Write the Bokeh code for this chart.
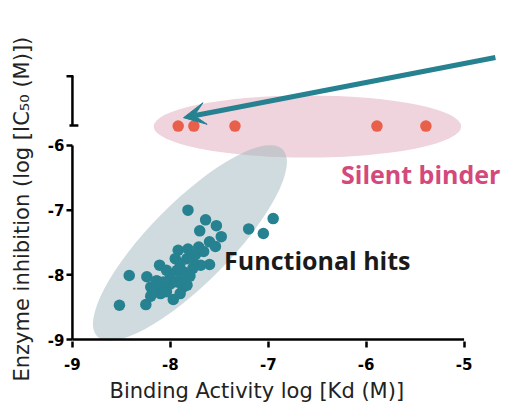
import math
from bokeh.plotting import figure
from bokeh.models import Range1d, FixedTicker, Label, Arrow, VeeHead, Title
from bokeh.embed import file_html
from bokeh.resources import INLINE

# ---- data (log units) ----
functional_kd = [-7.82, -7.64, -7.53, -7.70, -7.48, -7.60, -7.54, -7.20, -7.05, -6.95,
                 -7.92, -7.82, -7.71, -7.60, -7.69, -8.11, -8.42, -8.24, -8.52, -8.25,
                 -7.97, -7.87, -8.20, -8.14, -8.07, -8.00, -7.93, -7.83, -7.95, -7.90,
                 -7.87, -7.77, -7.93, -7.83, -8.07, -8.14, -8.04, -7.90, -8.00, -7.77,
                 -8.10, -8.17, -7.80, -7.74, -7.66, -8.04, -7.89, -8.20]
functional_ic50 = [-7.00, -7.15, -7.24, -7.32, -7.41, -7.49, -7.56, -7.29, -7.36, -7.13,
                   -7.62, -7.60, -7.57, -7.84, -7.85, -7.85, -8.01, -8.03, -8.47, -8.46,
                   -8.38, -8.19, -8.19, -8.09, -8.24, -8.14, -7.93, -7.75, -7.75, -7.82,
                   -7.95, -7.90, -8.11, -8.16, -8.11, -8.21, -8.26, -8.29, -8.00, -7.75,
                   -8.29, -8.27, -8.02, -7.68, -7.64, -7.93, -8.06, -8.33]

silent_kd = [-7.92, -7.76, -7.34, -5.89, -5.39]
silent_ic50 = [-5.70, -5.70, -5.70, -5.70, -5.70]

x_ticks = [-9, -8, -7, -6, -5]
y_ticks = [-9, -8, -7, -6]
y_break = [-5.69, -4.93]          # upper (broken) y-axis segment

TEAL = "#268190"
RED = "#e8604a"
PINK_TEXT = "#d4497c"
AXW = 2.5

XPX = 98.8    # px per x unit
YPX = 64.67   # px per y unit
FRAME_W, FRAME_H = 446, 341
x0 = -9 - 7 / XPX
y0 = -9 - 2 / YPX

p = figure(width=507, height=408, output_backend="svg", toolbar_location=None,
           x_range=Range1d(x0, x0 + FRAME_W / XPX),
           y_range=Range1d(y0, y0 + FRAME_H / YPX),
           min_border_left=61, min_border_right=0, min_border_top=0,
           min_border_bottom=67)
p.outline_line_color = None
p.xgrid.visible = False
p.ygrid.visible = False
p.background_fill_color = "white"
p.border_fill_color = "white"

# highlight ellipses
p.ellipse(x=[-6.60], y=[-5.706], width=[3.14], height=[0.96],
          fill_color="#f0d4dd", line_color=None)
p.ellipse(x=[-7.80], y=[-7.507], width=[2.69], height=[1.25], angle=[math.radians(45.3)],
          fill_color="#9fb8bd", fill_alpha=0.5, line_color=None)

# hand-drawn axis lines (so the y axis can be broken)
p.segment(x0=[x_ticks[0]], y0=[y_ticks[0]], x1=[x_ticks[-1]], y1=[y_ticks[0]],
          line_color="black", line_width=AXW)
p.segment(x0=[x_ticks[0]], y0=[y_ticks[0]], x1=[x_ticks[0]], y1=[y_ticks[-1]],
          line_color="black", line_width=AXW)
p.segment(x0=[x_ticks[0] - 6 / XPX] * len(y_ticks), y0=y_ticks,
          x1=[x_ticks[0]] * len(y_ticks), y1=y_ticks, line_color="black", line_width=AXW)
p.segment(x0=[x_ticks[0]], y0=[y_break[0]], x1=[x_ticks[0]], y1=[y_break[1]],
          line_color="black", line_width=AXW)
p.segment(x0=[x_ticks[0] - 6 / XPX, x_ticks[0] - 3 / XPX],
          y0=[y_break[1], y_break[0]],
          x1=[x_ticks[0] + 1 / XPX, x_ticks[0] + 6 / XPX],
          y1=[y_break[1], y_break[0]], line_color="black", line_width=AXW)

# points
p.scatter(functional_kd, functional_ic50, size=11.5, fill_color=TEAL, line_color=None)
p.scatter(silent_kd, silent_ic50, size=11.5, fill_color=RED, line_color=None)

# arrow
p.add_layout(Arrow(x_start=-4.68, y_start=-4.64, x_end=-7.866, y_end=-5.57,
                   line_color=TEAL, line_width=5,
                   end=VeeHead(size=22, fill_color=TEAL, line_color=TEAL, line_width=1)))

# axes
xa = p.xaxis[0]
ya = p.yaxis[0]
xa.ticker = FixedTicker(ticks=x_ticks)
ya.ticker = FixedTicker(ticks=y_ticks)
xa.axis_line_color = None
ya.axis_line_color = None
xa.major_tick_line_width = AXW
xa.major_tick_line_color = "black"
xa.major_tick_in = 0
xa.major_tick_out = 6
ya.major_tick_line_color = None
ya.major_tick_in = 0
ya.major_tick_out = 0
for ax, ticks in ((xa, x_ticks), (ya, y_ticks)):
    ax.minor_tick_line_color = None
    ax.major_label_overrides = {t: str(t) for t in ticks}
    ax.major_label_text_font = "DejaVu Sans"
    ax.major_label_text_font_style = "bold"
    ax.major_label_text_font_size = "15px"
    ax.major_label_text_color = "black"
xa.major_label_standoff = 10
ya.major_label_standoff = 1

# axis titles
p.add_layout(Title(text="Binding Activity log [Kd (M)]", align="left", offset=44,
                   vertical_align="bottom", standoff=8,
                   text_font="DejaVu Sans", text_font_size="21px",
                   text_font_style="normal", text_color="#222222"), "below")
p.add_layout(Title(text="Enzyme inhibition (log [IC\u2085\u2080 (M)])", align="left",
                   offset=-40, vertical_align="top", standoff=18,
                   text_font="DejaVu Sans", text_font_size="21px",
                   text_font_style="normal", text_color="#222222"), "left")

# annotations
p.add_layout(Label(x=-7.451, y=-7.764, text="Functional hits", text_font="Open Sans",
                   text_font_style="bold", text_font_size="25px", text_color="#1a1a1a",
                   text_align="left", text_baseline="middle"))
p.add_layout(Label(x=-6.257, y=-6.434, text="Silent binder", text_font="Open Sans",
                   text_font_style="bold", text_font_size="25px", text_color=PINK_TEXT,
                   text_align="left", text_baseline="middle"))

open("out.html", "w").write(file_html(p, INLINE))
